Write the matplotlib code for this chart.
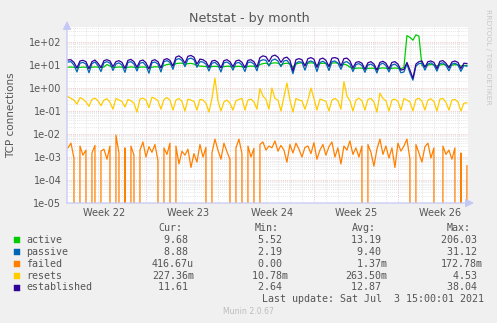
import matplotlib
matplotlib.use("Agg")
import matplotlib.pyplot as plt
import matplotlib.ticker as mticker
import matplotlib.transforms as mtransforms
from matplotlib.patches import Rectangle
import numpy as np

W, H = 497, 323

# 6-hourly averages; time in days since Mon 31 May 2021 00:00
start_day = 0.5
step_day = 0.25

active = [
    8.0, 8.2, 8.0, 7.6,
    7.9, 8.1, 8.0, 7.5,
    8.0, 8.3, 8.1, 7.7,
    8.2, 10.5, 9.0, 7.8,
    8.0, 8.2, 8.1, 7.6,
    7.9, 8.3, 8.0, 7.5,
    8.1, 8.2, 8.0, 7.4,
    8.0, 8.4, 8.3, 7.8,
    9.5, 10.5, 11.0, 9.5,
    11.5, 12.0, 12.0, 10.5,
    11.5, 11.8, 11.0, 9.5,
    9.0, 8.8, 8.6, 8.0,
    8.6, 8.8, 8.5, 8.0,
    8.5, 8.9, 8.7, 8.1,
    8.6, 8.8, 8.5, 8.0,
    8.7, 9.0, 8.8, 8.3,
    10.5, 11.5, 12.0, 10.5,
    12.0, 12.5, 12.0, 10.0,
    11.5, 12.0, 11.0, 8.0,
    11.0, 12.0, 12.5, 10.5,
    12.0, 12.5, 12.0, 9.5,
    11.5, 12.0, 11.5, 9.5,
    12.0, 12.5, 12.0, 10.0,
    11.0, 10.0, 8.0, 7.0,
    7.2, 7.4, 7.3, 6.9,
    7.1, 7.3, 7.2, 6.8,
    7.2, 7.5, 7.3, 6.9,
    7.2, 7.4, 7.2, 6.8,
    8.0, 190.0, 160.0, 120.0,
    206.03, 180.0, 9.5, 9.0,
    10.0, 10.5, 10.2, 9.0,
    10.0, 10.6, 10.1, 8.8,
    9.8, 10.4, 10.0, 8.9,
    9.5, 9.68,
]

passive = [
    13.5, 14.0, 10.0, 5.0,
    12.0, 13.0, 11.0, 4.6,
    11.5, 13.5, 9.5, 5.2,
    12.5, 14.0, 12.0, 5.8,
    11.0, 12.5, 10.0, 4.8,
    13.0, 14.0, 11.0, 5.5,
    12.0, 13.0, 9.5, 4.4,
    12.5, 13.5, 11.0, 5.0,
    14.0, 15.5, 13.0, 6.5,
    17.0, 19.0, 16.0, 8.5,
    18.0, 20.0, 17.0, 8.0,
    14.0, 13.5, 11.0, 5.5,
    12.0, 13.0, 10.0, 5.0,
    12.5, 13.5, 11.0, 6.0,
    12.0, 13.0, 10.0, 5.2,
    13.0, 13.5, 11.0, 5.6,
    15.0, 17.0, 16.0, 9.0,
    16.0, 18.0, 15.0, 8.5,
    15.0, 16.0, 11.0, 4.2,
    12.0, 14.0, 13.0, 6.0,
    13.5, 15.0, 13.0, 5.2,
    13.0, 14.5, 12.0, 5.8,
    14.0, 15.0, 12.0, 6.5,
    13.0, 14.0, 11.0, 5.2,
    10.5, 11.5, 9.5, 4.8,
    10.0, 11.0, 9.0, 4.5,
    10.5, 12.0, 9.5, 5.0,
    10.0, 11.0, 8.5, 4.6,
    5.0, 11.0, 4.5, 2.19,
    9.0, 11.5, 12.0, 6.0,
    11.0, 12.5, 10.0, 5.4,
    11.5, 12.5, 9.5, 5.6,
    11.0, 12.0, 10.0, 5.3,
    9.5, 8.88,
]

# failed, in thousandths
failed_milli = [
    2.5, 4.0, 0.9, 0,
    3.0, 1.2, 2.0, 0,
    1.5, 3.2, 0, 1.8,
    2.2, 0.8, 3.0, 0,
    9.0, 1.5, 0, 2.5,
    0, 3.0, 1.2, 0,
    2.0, 4.5, 1.0, 2.8,
    1.6, 3.5, 0.7, 0,
    2.5, 1.3, 4.0, 0,
    3.0, 0.5, 1.8, 1.2,
    2.2, 0.35, 1.4, 0.6,
    3.5, 1.0, 2.6, 0,
    1.5, 6.0, 2.0, 0.8,
    4.0, 1.7, 0.8, 0,
    2.5, 6.0, 1.4, 0,
    3.0, 1.0, 2.4, 0,
    3.5, 4.5, 2.0, 3.0,
    2.5, 5.0, 1.8, 3.2,
    2.0, 0.6, 3.5, 1.5,
    4.0, 2.2, 1.0, 2.6,
    3.0, 1.4, 4.2, 0.8,
    2.0, 3.5, 1.2, 2.8,
    4.5, 1.0, 2.5, 0.5,
    3.0, 2.0, 5.0, 1.3,
    2.5, 1.0, 3.0, 0,
    3.5, 1.6, 0.4, 2.2,
    6.0, 1.3, 3.0, 0.9,
    2.5, 0.35, 4.0, 1.8,
    3.0, 6.0, 0.8, 0,
    3.5, 1.5, 0.6, 2.8,
    4.0, 0.9, 2.5, 0,
    0, 3.0, 1.3, 2.0,
    0.8, 2.5, 0, 1.5,
    0, 0.41667,
]

resets = [
    0.42, 0.35, 0.30, 0.20,
    0.38, 0.33, 0.25, 0.16,
    0.32, 0.36, 0.28, 0.17,
    0.30, 0.34, 0.24, 0.12,
    0.35, 0.30, 0.26, 0.15,
    0.32, 0.28, 0.22, 0.09,
    0.33, 0.36, 0.30, 0.14,
    0.40, 0.35, 0.28, 0.12,
    0.32, 0.38, 0.30, 0.11,
    0.30, 0.35, 0.26, 0.10,
    0.33, 0.30, 0.26, 0.11,
    0.32, 0.30, 0.22, 0.09,
    0.35, 2.70, 0.28, 0.10,
    0.25, 0.30, 0.22, 0.11,
    0.28, 0.32, 0.35, 0.11,
    0.30, 0.33, 0.25, 0.12,
    0.95, 0.45, 0.32, 0.12,
    1.00, 0.35, 0.30, 0.10,
    0.40, 1.65, 0.30, 0.09,
    0.35, 0.30, 0.28, 0.12,
    0.30, 1.00, 0.35, 0.11,
    0.33, 0.30, 0.26, 0.10,
    0.30, 0.35, 0.28, 0.12,
    1.90, 0.45, 0.28, 0.10,
    0.30, 0.36, 0.28, 0.11,
    0.32, 0.35, 0.25, 0.09,
    0.60, 0.35, 0.28, 0.10,
    0.30, 0.33, 0.26, 0.11,
    0.35, 0.30, 0.25, 0.10,
    0.32, 0.36, 0.27, 0.11,
    0.30, 0.34, 0.26, 0.10,
    0.33, 0.35, 0.24, 0.11,
    0.30, 0.32, 0.25, 0.10,
    0.22, 0.22736,
]

established = [
    16.5, 17.0, 13.0, 7.5,
    15.0, 16.0, 14.0, 7.0,
    14.0, 16.5, 12.0, 7.8,
    15.5, 17.0, 15.0, 8.5,
    14.0, 15.5, 13.0, 7.2,
    16.0, 17.5, 14.0, 8.0,
    15.0, 16.5, 12.5, 6.8,
    15.5, 17.0, 14.0, 7.5,
    17.0, 19.0, 16.0, 9.0,
    22.0, 25.0, 20.0, 12.0,
    24.0, 26.0, 22.0, 11.0,
    18.0, 17.0, 14.0, 8.0,
    15.0, 16.0, 13.0, 7.5,
    15.5, 17.0, 14.0, 8.5,
    15.0, 16.5, 13.0, 7.8,
    16.0, 17.0, 14.0, 8.2,
    21.0, 25.0, 23.0, 14.0,
    24.0, 27.0, 22.0, 13.0,
    20.0, 22.0, 16.0, 5.5,
    17.0, 19.0, 17.0, 9.0,
    19.0, 21.0, 18.0, 8.0,
    18.0, 20.0, 16.0, 8.5,
    20.0, 21.0, 19.0, 9.0,
    19.0, 20.0, 15.0, 7.5,
    13.0, 14.0, 12.0, 6.5,
    12.5, 14.0, 11.0, 6.0,
    13.0, 14.5, 12.0, 6.8,
    13.0, 14.0, 11.0, 6.0,
    6.5, 13.0, 6.0, 2.64,
    11.0, 14.0, 15.0, 8.0,
    14.0, 15.0, 13.0, 7.0,
    14.5, 15.5, 12.0, 7.5,
    13.5, 15.0, 13.0, 7.0,
    12.0, 11.61,
]

names = ["active", "passive", "failed", "resets", "established"]
colors = ["#00cc00", "#0066b3", "#ff8000", "#ffcc00", "#330099"]
cur_vals = ["9.68", "8.88", "416.67u", "227.36m", "11.61"]
min_vals = ["5.52", "2.19", "0.00", "10.78m", "2.64"]
avg_vals = ["13.19", "9.40", "1.37m", "263.50m", "12.87"]
max_vals = ["206.03", "31.12", "172.78m", "4.53", "38.04"]

week_labels = ["Week 22", "Week 23", "Week 24", "Week 25", "Week 26"]
week_starts = [0, 7, 14, 21, 28]

BG = "#f0f0f0"
TXT = "#555555"
AXIS = "#c4c8f4"
MONO = "DejaVu Sans Mono"


def fx(x):
    return x / W


def fy(y):
    return 1 - y / H


series = [active, passive, np.array(failed_milli) * 1e-3, resets, established]
t = start_day + step_day * np.arange(len(active))

fig = plt.figure(figsize=(W / 100, H / 100), dpi=100, facecolor=BG)
ax = fig.add_axes([fx(67), fy(203), fx(468) - fx(67), fy(27) - fy(203)])
ax.set_facecolor("white")

ax.set_yscale("log")
ax.set_xlim(0.42, 33.84)
ax.set_ylim(1e-5, 450)

# grid: daily / minor-decade dotted grey, weekly / decade dotted red
ax.set_xticks(week_starts[1:])
ax.set_xticks(np.arange(1, 34), minor=True)
ax.yaxis.set_major_locator(mticker.LogLocator(base=10.0, numticks=20))
ax.yaxis.set_minor_locator(mticker.LogLocator(base=10.0, subs=np.arange(2, 10), numticks=20))
ax.grid(True, which="minor", color="#dadada", linestyle=(0, (1, 1.5)), linewidth=0.55)
ax.grid(True, which="major", color="#eab0b0", linestyle=(0, (1, 1.5)), linewidth=0.55)
ax.set_axisbelow(True)

ax.yaxis.set_major_formatter(mticker.FuncFormatter(lambda v, _: f"{v:.0e}"))
ax.yaxis.set_minor_formatter(mticker.NullFormatter())
ax.set_xticklabels([])
ax.tick_params(which="both", length=0)
ax.tick_params(axis="y", labelsize=7, labelcolor=TXT, pad=4)
for s in ax.spines.values():
    s.set_visible(False)

for name, col, vals in zip(names, colors, series):
    ax.plot(t, vals, color=col, linewidth=0.9, label=name)

trans = mtransforms.blended_transform_factory(ax.transData, fig.transFigure)
for ws, lab in zip(week_starts, week_labels):
    ax.text(ws + 3.5, fy(212.5), lab, transform=trans, ha="center", va="center",
            fontsize=7, color=TXT)

# axis arrows
ax.annotate("", xy=(0, (203 - 21) / 176), xytext=(0, 0), xycoords="axes fraction",
            arrowprops=dict(arrowstyle="-|>,head_length=0.5,head_width=0.25",
                            color=AXIS, lw=0.9, shrinkA=0, shrinkB=0))
ax.annotate("", xy=((474 - 67) / 401, 0), xytext=(0, 0), xycoords="axes fraction",
            arrowprops=dict(arrowstyle="-|>,head_length=0.5,head_width=0.25",
                            color=AXIS, lw=0.9, shrinkA=0, shrinkB=0))

fig.text(fx(249), fy(18.5), "Netstat - by month", ha="center", va="center",
         fontsize=9.2, color=TXT)
fig.text(fx(11), fy(115), "TCP connections", rotation=90, ha="center", va="center",
         fontsize=7.5, color=TXT)
fig.text(fx(488), fy(57), "RRDTOOL / TOBI OETIKER", rotation=270, ha="center",
         va="center", fontsize=5.4, color="#c8c8c8")

# legend table
lsize = 7.2
cw = 0.602 * lsize * 100 / 72
for hdr, x0 in zip(["Cur:", "Min:", "Avg:", "Max:"], [158, 255, 352, 447]):
    fig.text(fx(x0), fy(228), hdr, ha="left", va="center", family=MONO,
             fontsize=lsize, color=TXT)


def cell(v):
    v = v if v[-1].isalpha() else v + " "
    return v.rjust(7)


row_y = [240, 252, 264, 276, 287.5]
for i, (name, col) in enumerate(zip(names, colors)):
    y = row_y[i]
    fig.patches.append(Rectangle((fx(14), fy(y + 3)), fx(6), 6 / H,
                                 transform=fig.transFigure, facecolor=col,
                                 edgecolor=col, linewidth=0.3))
    fig.text(fx(26), fy(y), name, ha="left", va="center", family=MONO,
             fontsize=lsize, color=TXT)
    for vals, x_end in zip([cur_vals, min_vals, avg_vals, max_vals], [194, 288, 387, 483]):
        fig.text(fx(x_end - 7 * cw), fy(y), cell(vals[i]), ha="left", va="center",
                 family=MONO, fontsize=lsize, color=TXT)

fig.text(fx(262), fy(299.5), "Last update: Sat Jul  3 15:00:01 2021", ha="left",
         va="center", family=MONO, fontsize=lsize, color=TXT)
fig.text(fx(248), fy(312), "Munin 2.0.67", ha="center", va="center", fontsize=5.6,
         color="#bdbdbd")

fig.savefig("out.png", dpi=100, facecolor=BG)
